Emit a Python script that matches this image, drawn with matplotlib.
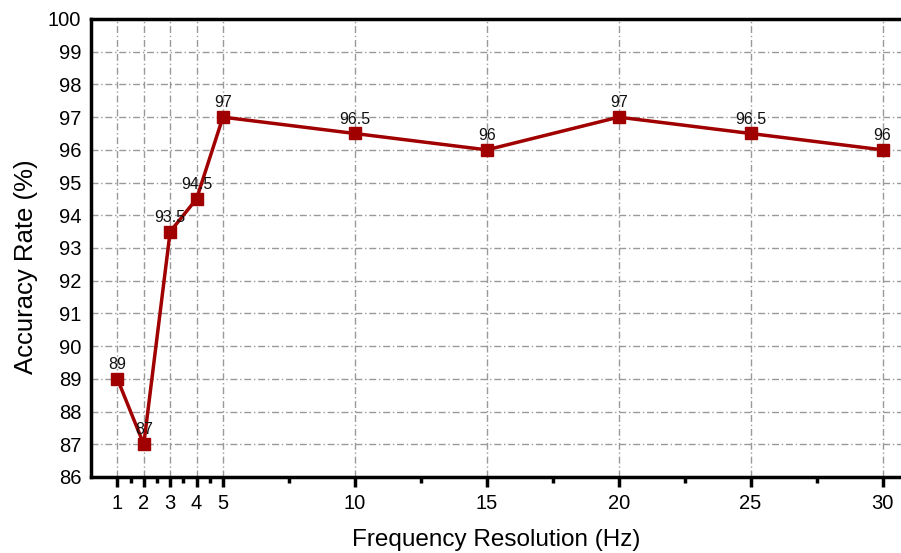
import matplotlib
matplotlib.use("Agg")
import matplotlib.pyplot as plt
from matplotlib.ticker import FixedLocator

plt.rcParams['font.family'] = ['Liberation Sans', 'DejaVu Sans']

freq = [1, 2, 3, 4, 5, 10, 15, 20, 25, 30]
acc = [89, 87, 93.5, 94.5, 97, 96.5, 96, 97, 96.5, 96]
labels = ['89', '87', '93.5', '94.5', '97', '96.5', '96', '97', '96.5', '96']
xticks = [1, 2, 3, 4, 5, 10, 15, 20, 25, 30]
xminor = [1.5, 2.5, 3.5, 4.5, 7.5, 12.5, 17.5, 22.5, 27.5]
yticks = list(range(86, 101))

fig = plt.figure(figsize=(9.01, 5.53), dpi=100)
ax = fig.add_axes([91/901, 76/553, 1 - 91/901, (477-19)/553])

color = '#A00000'
ax.plot(freq, acc, color=color, lw=2.5, marker='s', ms=8, mfc=color, mec=color, zorder=3)
for x, y, t in zip(freq, acc, labels):
    ax.annotate(t, (x, y), xytext=(0, 5), textcoords='offset points', ha='center', va='bottom',
                fontsize=11.5, color='#111111', zorder=4)

ax.set_xlim(0, 30.7)
ax.set_ylim(86, 100)
ax.set_xticks(xticks)
ax.xaxis.set_minor_locator(FixedLocator(xminor))
ax.set_yticks(yticks)
ax.tick_params(axis='x', which='major', direction='out', length=7, width=2.5, labelsize=14.5, pad=5)
ax.tick_params(axis='x', which='minor', direction='out', length=4, width=2.5)
ax.tick_params(axis='y', which='major', length=0, labelsize=14.5, pad=7)

ax.grid(True, which='major', color='#999999', lw=1.0, linestyle=(0, (5, 2, 1, 2)))
ax.set_axisbelow(True)

for s in ['left', 'bottom', 'top']:
    ax.spines[s].set_linewidth(2.5)
    ax.spines[s].set_color('black')
ax.spines['right'].set_visible(False)

ax.set_xlabel('Frequency Resolution (Hz)', fontsize=17.5, labelpad=12)
ax.set_ylabel('Accuracy Rate (%)', fontsize=18.5)
ax.yaxis.set_label_coords(-0.066, 0.459)

fig.savefig('out.png', dpi=100)
